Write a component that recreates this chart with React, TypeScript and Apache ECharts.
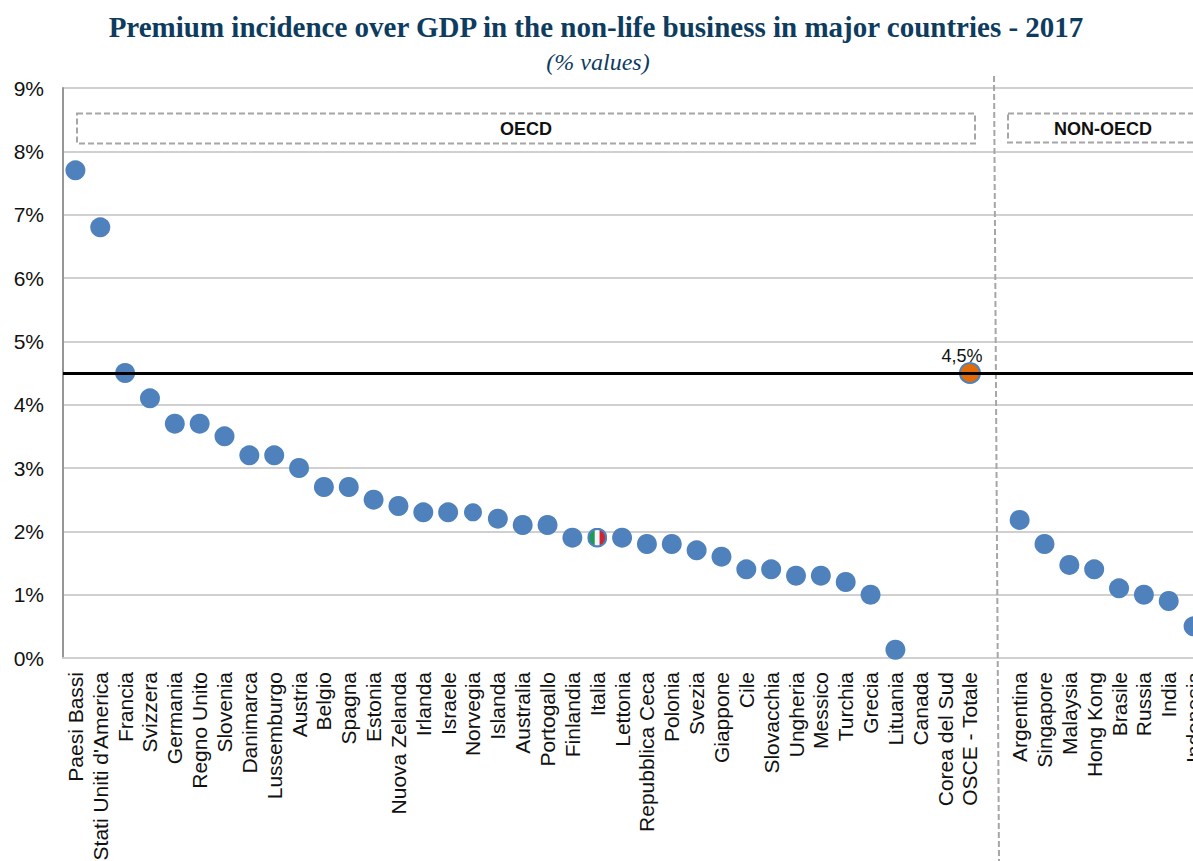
import React, { useEffect, useRef } from "react";
import * as echarts from "echarts";

const titleText = "Premium incidence over GDP in the non-life business in major countries - 2017";
const subtitleText = "(% values)";

const categories = [
  "Paesi Bassi", "Stati Uniti d'America", "Francia", "Svizzera", "Germania", "Regno Unito", "Slovenia",
  "Danimarca", "Lussemburgo", "Austria", "Belgio", "Spagna", "Estonia", "Nuova Zelanda", "Irlanda",
  "Israele", "Norvegia", "Islanda", "Australia", "Portogallo", "Finlandia", "Italia", "Lettonia",
  "Repubblica Ceca", "Polonia", "Svezia", "Giappone", "Cile", "Slovacchia", "Ungheria", "Messico",
  "Turchia", "Grecia", "Lituania", "Canada", "Corea del Sud", "OSCE - Totale", "",
  "Argentina", "Singapore", "Malaysia", "Hong Kong", "Brasile", "Russia", "India", "Indonesia",
];

const premiumShare: (number | null)[] = [
  7.7, 6.8, 4.5, 4.1, 3.7, 3.7, 3.5,
  3.2, 3.2, 3.0, 2.7, 2.7, 2.5, 2.4, 2.3,
  2.3, 2.3, 2.2, 2.1, 2.1, 1.9, 1.9, 1.9,
  1.8, 1.8, 1.7, 1.6, 1.4, 1.4, 1.3, 1.3,
  1.2, 1.0, 0.13, null, null, 4.5, null,
  2.18, 1.8, 1.47, 1.4, 1.1, 1.0, 0.9, 0.5,
];

const oecdTotal = 4.5;
const oecdTotalName = "OSCE - Totale";
const flagName = "Italia";
const smallMarkerName = "Norvegia";
const blue = "#4f81bd";
const orange = "#e36c0a";
const grey = "#a6a6a6";
const navy = "#0e3c5f";

const flagSvg =
  `<svg xmlns="http://www.w3.org/2000/svg" width="40" height="40" viewBox="0 0 40 40">` +
  `<defs><clipPath id="c"><circle cx="20" cy="20" r="15.5"/></clipPath></defs>` +
  `<circle cx="20" cy="20" r="20" fill="${blue}"/>` +
  `<g clip-path="url(#c)"><rect x="4" y="4" width="11" height="32" fill="#1f9a52"/>` +
  `<rect x="15" y="4" width="10" height="32" fill="#f4f4f4"/>` +
  `<rect x="25" y="4" width="11" height="32" fill="#d2232f"/></g></svg>`;
const flagSymbol = "image://data:image/svg+xml;charset=utf-8," + encodeURIComponent(flagSvg);

export default function App() {
  const ref = useRef<HTMLDivElement>(null);

  useEffect(() => {
    const chart = echarts.init(ref.current!, undefined, { renderer: "svg" });
    const points = categories.map((name, i) => {
      const value = premiumShare[i];
      if (name === oecdTotalName) {
        return {
          value,
          itemStyle: { color: orange, borderColor: blue, borderWidth: 2 },
          label: {
            show: true,
            position: "top",
            distance: 0,
            offset: [-8, 3],
            formatter: `${String(value).replace(".", ",")}%`,
            fontFamily: "Liberation Sans",
            fontSize: 18,
            color: "#111",
          },
        };
      }
      if (name === flagName) return { value, symbol: flagSymbol };
      if (name === smallMarkerName) return { value, symbolSize: 18 };
      return { value };
    });

    chart.setOption({
      animation: false,
      backgroundColor: "#ffffff",
      title: [
        {
          text: titleText,
          left: 591,
          top: 7,
          textAlign: "center",
          textStyle: { fontFamily: "Liberation Serif", fontWeight: "bold", fontSize: 29, color: navy },
        },
        {
          text: subtitleText,
          left: 593,
          top: 45,
          textAlign: "center",
          textStyle: { fontFamily: "Liberation Serif", fontStyle: "italic", fontWeight: "normal", fontSize: 24, color: navy },
        },
      ],
      grid: { left: 63, top: 88, width: 1143, height: 570, outerBoundsMode: "none" },
      xAxis: {
        type: "category",
        data: categories,
        axisTick: { show: false },
        axisLine: { lineStyle: { color: "#d0d0d0", width: 2 } },
        splitLine: { show: false },
        axisLabel: {
          interval: 0,
          rotate: 90,
          margin: 14,
          fontFamily: "Liberation Sans",
          fontSize: 21,
          color: "#111",
        },
      },
      yAxis: {
        type: "value",
        min: 0,
        max: 9,
        interval: 1,
        axisTick: { show: false },
        axisLine: { show: true, lineStyle: { color: "#969696", width: 2 } },
        splitLine: { lineStyle: { color: "#d0d0d0", width: 2 } },
        axisLabel: {
          formatter: "{value}%",
          margin: 19,
          fontFamily: "Liberation Sans",
          fontSize: 21,
          color: "#111",
        },
      },
      series: [
        {
          type: "scatter",
          name: "Total line",
          z: 1,
          data: [],
          markLine: {
            silent: true,
            symbol: "none",
            label: { show: false },
            lineStyle: { color: "#000", width: 3, type: "solid" },
            data: [{ yAxis: oecdTotal }],
          },
        },
        {
          type: "scatter",
          name: "Premium incidence",
          z: 3,
          symbol: "circle",
          symbolSize: 20,
          itemStyle: { color: blue, opacity: 1 },
          data: points,
        },
      ],
      graphic: [
        {
          type: "rect",
          z: 2,
          shape: { x: 77, y: 113.5, width: 898, height: 30 },
          style: { fill: "none", stroke: grey, lineWidth: 2, lineDash: [6, 3] },
        },
        {
          type: "rect",
          z: 2,
          shape: { x: 1008, y: 113.5, width: 240, height: 29 },
          style: { fill: "none", stroke: grey, lineWidth: 2, lineDash: [6, 3] },
        },
        {
          type: "text",
          z: 2,
          x: 526,
          y: 129,
          style: { text: "OECD", fontFamily: "Liberation Sans", fontWeight: "bold", fontSize: 18, fill: "#111", align: "center", verticalAlign: "middle" },
        },
        {
          type: "text",
          z: 2,
          x: 1103,
          y: 129,
          style: { text: "NON-OECD", fontFamily: "Liberation Sans", fontWeight: "bold", fontSize: 18, fill: "#111", align: "center", verticalAlign: "middle" },
        },
        {
          type: "line",
          z: 2,
          shape: { x1: 994, y1: 76, x2: 999, y2: 861 },
          style: { stroke: grey, lineWidth: 2, lineDash: [6, 3] },
        },
      ],
    });
    return () => chart.dispose();
  }, []);

  // The plot runs past the right edge of the page, so the chart is wider than its clipping frame.
  return (
    <div style={{ position: "fixed", left: 0, top: 0, width: 1193, height: 861, overflow: "hidden", background: "#fff" }}>
      <div ref={ref} style={{ width: 1300, height: 861 }} />
    </div>
  );
}
